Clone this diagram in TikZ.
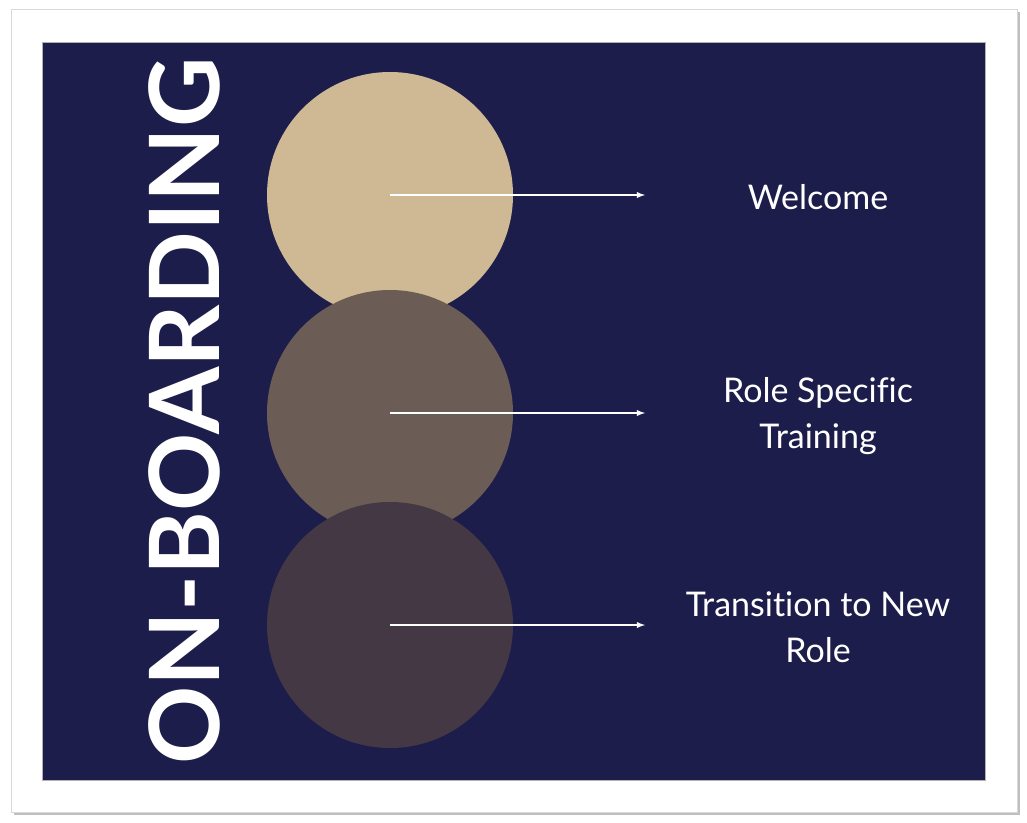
\documentclass[tikz,border=0pt]{standalone}
\usepackage{fontspec}
\setmainfont{Lato}[Ligatures=NoCommon]
\definecolor{navy}{HTML}{1D1D4B}
\definecolor{sand}{HTML}{CFB994}
\definecolor{taupe}{HTML}{6B5C55}
\definecolor{plum}{HTML}{433843}
\begin{document}
\begin{tikzpicture}[x=1pt, y=-1pt]
		% formats
		\tikzstyle{every node}=[inner sep=0pt]
		\tikzstyle{stage} = [circle, minimum size=246pt]
		\tikzstyle{arrow} = [-latex, line width=1.8pt, white]
		\tikzstyle{label} = [text=white, font=\fontsize{34}{46}\selectfont, align=center]
		\useasboundingbox (0,0) rectangle (1027,822);
		% frame
		\fill [black!25] (14,12) rectangle (1020,815);
		\fill [white, draw=black!15] (11,9) rectangle (1017,812);
		\fill [navy, draw=black!30] (42,42) rectangle (985,780);
		% title
		\node [rotate=90, text=white, font=\bfseries\fontsize{97}{97}\selectfont] (T) at (184,411) {ON-BOARDING};
		% circles
		\node [stage, fill=sand] (C1) at (390,195) {};
		\node [stage, fill=taupe] (C2) at (390,413) {};
		\node [stage, fill=plum] (C3) at (390,625) {};
		% ends
		\coordinate (E1) at (645,195);
		\coordinate (E2) at (645,413);
		\coordinate (E3) at (645,625);
		% labels
		\node [label] (L1) at (818,197) {Welcome};
		\node [label] (L2) at (818,416) {Role Specific\\Training};
		\node [label] (L3) at (818,627) {Transition to New\\Role};
		% relations
		\draw [arrow] (C1.center) -- (E1);
		\draw [arrow] (C2.center) -- (E2);
		\draw [arrow] (C3.center) -- (E3);
	\end{tikzpicture}
\end{document}
